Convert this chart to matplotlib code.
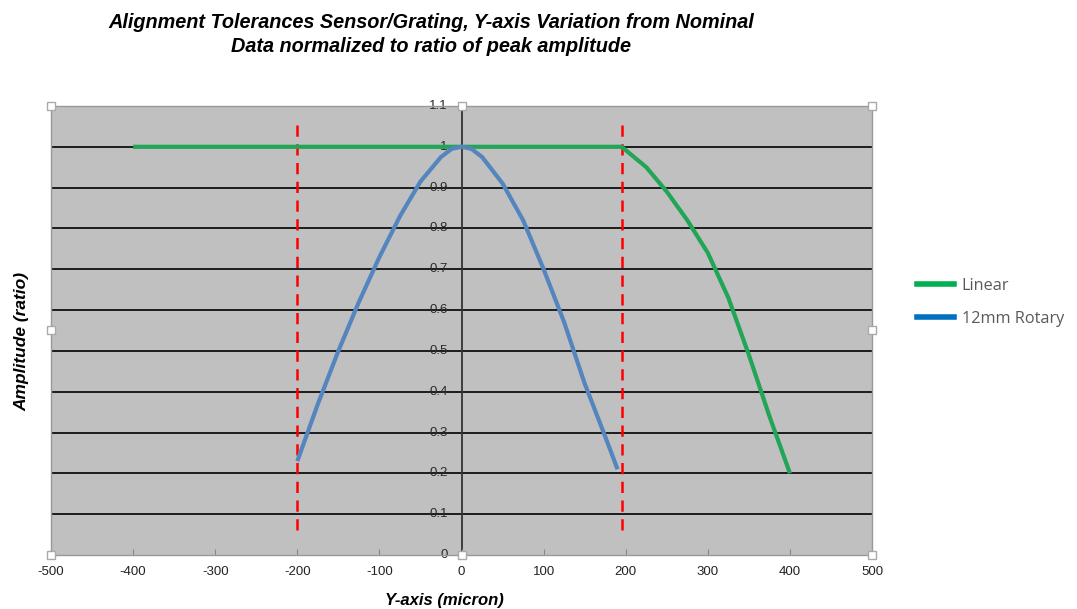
import matplotlib.pyplot as plt
import numpy as np

# --- data ---
linear_x = [-400, -300, -200, -100, 0, 100, 195, 225, 250, 275, 300, 325, 350, 375, 400]
linear_y = [1.0, 1.0, 1.0, 1.0, 1.0, 1.0, 1.0, 0.95, 0.89, 0.82, 0.74, 0.63, 0.49, 0.34, 0.20]

rotary_x = [-200, -175, -150, -125, -100, -75, -50, -25, -12, 0, 12, 25, 50, 75, 100, 125, 150, 175, 190]
rotary_y = [0.23, 0.37, 0.50, 0.62, 0.73, 0.83, 0.915, 0.975, 0.995, 1.0, 0.995, 0.975, 0.91, 0.82, 0.70, 0.57, 0.42, 0.29, 0.21]

tolerance_x = [-200, 195]
y_ticks = [0, 0.1, 0.2, 0.3, 0.4, 0.5, 0.6, 0.7, 0.8, 0.9, 1, 1.1]
x_ticks = [-500, -400, -300, -200, -100, 0, 100, 200, 300, 400, 500]

plt.rcParams['font.family'] = ['Liberation Sans', 'DejaVu Sans']

fig = plt.figure(figsize=(10.77, 6.09), dpi=100)
ax = fig.add_axes([0.0474, 0.0887, 0.7623, 0.7373])
ax.set_facecolor('#C0C0C0')
ax.set_xlim(-500, 500)
ax.set_ylim(0, 1.1)

for yv in y_ticks[1:-1]:
    ax.axhline(yv, color='black', lw=1.2, zorder=1)
ax.axvline(0, color='#333333', lw=1.3, zorder=1)

for xv in tolerance_x:
    ax.plot([xv, xv], [0.06, 1.06], color='red', lw=1.8, ls=(0, (4.5, 3)), zorder=3)

ax.plot(linear_x, linear_y, color='#22A556', lw=3, solid_capstyle='butt', solid_joinstyle='round', zorder=4)
ax.plot(rotary_x, rotary_y, color='#5585BE', lw=3, solid_capstyle='butt', solid_joinstyle='round', zorder=4)

# y tick labels sit on the centre axis
ax.set_yticks([])
for yv in y_ticks:
    ax.text(-17, yv, f'{yv:g}', ha='right', va='center', fontsize=9.5, color='#2a2a2a', zorder=2)

ax.set_xticks(x_ticks)
ax.set_xticklabels([str(v) for v in x_ticks], fontsize=9.5, color='#222222')
ax.tick_params(axis='x', direction='in', length=4, color='#888888', pad=8)

for s in ax.spines.values():
    s.set_color('#999999')
    s.set_linewidth(1)

# selection handles
for hx, hy in [(0, 1), (0.5, 1), (1, 1), (0, 0.5), (1, 0.5), (0, 0), (0.5, 0), (1, 0)]:
    ax.plot(hx, hy, marker='s', ms=6, mfc='white', mec='#AAAAAA', mew=1,
            transform=ax.transAxes, clip_on=False, zorder=6)

fig.text(0.40, 0.963, 'Alignment Tolerances Sensor/Grating, Y-axis Variation from Nominal',
         ha='center', va='center', fontsize=14.3, fontweight='bold', fontstyle='italic')
fig.text(0.40, 0.924, 'Data normalized to ratio of peak amplitude',
         ha='center', va='center', fontsize=14.3, fontweight='bold', fontstyle='italic')

fig.text(0.413, 0.014, 'Y-axis (micron)', ha='center', va='center',
         fontsize=12, fontweight='bold', fontstyle='italic')
fig.text(0.020, 0.44, 'Amplitude (ratio)', rotation=90, ha='center', va='center',
         fontsize=12.5, fontweight='bold', fontstyle='italic')

# legend
fig.lines.append(plt.Line2D([0.851, 0.886], [0.534, 0.534], color='#00B050', lw=4, transform=fig.transFigure))
fig.lines.append(plt.Line2D([0.851, 0.886], [0.479, 0.479], color='#0070C0', lw=4, transform=fig.transFigure))
fig.text(0.893, 0.531, 'Linear', ha='left', va='center', fontsize=11.7, color='#595959', family='Open Sans')
fig.text(0.893, 0.477, '12mm Rotary', ha='left', va='center', fontsize=11.7, color='#595959', family='Open Sans')

fig.savefig('out.png', dpi=100)
